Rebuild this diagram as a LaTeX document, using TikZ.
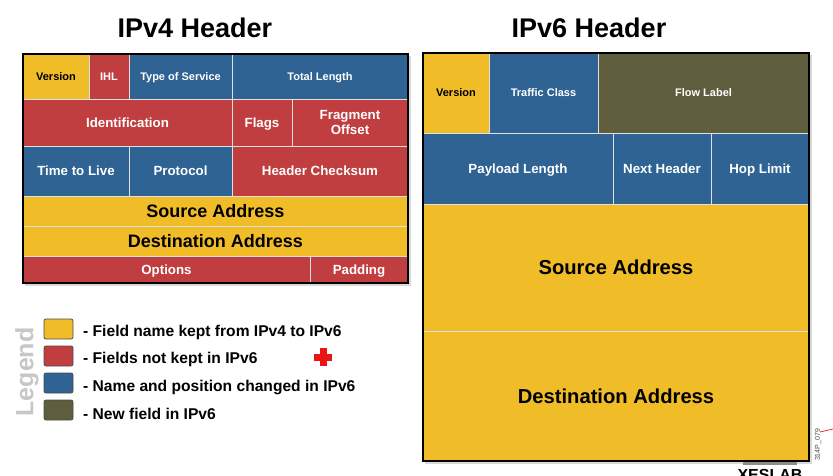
\documentclass[tikz,border=0pt]{standalone}
\usepackage{fontspec}
\setmainfont{Liberation Sans}
\definecolor{cyel}{RGB}{240,188,40}
\definecolor{cred}{RGB}{192,62,64}
\definecolor{cblu}{RGB}{46,99,148}
\definecolor{coli}{RGB}{94,94,62}
\definecolor{cline}{RGB}{225,225,225}
\definecolor{cross}{RGB}{235,20,20}
\tikzset{
  cellbox/.style={draw=cline,line width=0.9pt,inner sep=0pt,font=\bfseries,align=center},
  syel/.style={fill=cyel,text=black},
  sred/.style={fill=cred,text=white},
  sblu/.style={fill=cblu,text=white},
  soli/.style={fill=coli,text=white},
  fs/.style={font=\bfseries\fontsize{11}{12}\selectfont,text height=7.9pt,text depth=0pt},
  fm/.style={font=\bfseries\fontsize{13.3}{15}\selectfont,text height=9.5pt,text depth=0pt},
  fmm/.style={font=\bfseries\fontsize{13.3}{15}\selectfont},
  fl/.style={font=\bfseries\fontsize{18}{20}\selectfont,text height=12.9pt,text depth=0pt},
  fx/.style={font=\bfseries\fontsize{20.2}{22}\selectfont,text height=14.5pt,text depth=0pt},
  outer/.style={draw=black,line width=2pt},
  legsq/.style={draw=black!70,line width=0.8pt,rounded corners=2pt,minimum width=29pt,minimum height=20pt,inner sep=0pt},
  legtxt/.style={anchor=west,inner sep=0pt,font=\bfseries\fontsize{15.6}{17}\selectfont},
  title/.style={font=\bfseries\fontsize{27}{30}\selectfont}
}
\newcommand\cell[7]{\node[cellbox,#6,minimum width={(#4-#2)*1pt},minimum height={(#5-#3)*1pt}] (#1) at ({(#2+#4)/2},{(#3+#5)/2}) {#7};}
\begin{document}
\begin{tikzpicture}[x=1pt,y=-1pt]
\useasboundingbox[fill=white] (0,0) rectangle (833,476);
% titles
\node[title] (t4) at (195,28) {IPv4 Header};
\node[title] (t6) at (589,28) {IPv6 Header};
% IPv4
\fill[black!15] (25,56) rectangle (411,286);
\cell{aver}{23}{54}{89}{99}{syel,fs}{Version}
\cell{aihl}{89}{54}{129}{99}{sred,fs}{IHL}
\cell{atos}{129}{54}{232}{99}{sblu,fs}{Type of Service}
\cell{atot}{232}{54}{408}{99}{sblu,fs}{Total Length}
\cell{aid}{23}{99}{232}{146}{sred,fm}{Identification}
\cell{afl}{232}{99}{292}{146}{sred,fm}{Flags}
\cell{afo}{292}{99}{408}{146}{sred,fmm}{Fragment\\Offset}
\cell{attl}{23}{146}{129}{196}{sblu,fm}{Time to Live}
\cell{apr}{129}{146}{232}{196}{sblu,fm}{Protocol}
\cell{ack}{232}{146}{408}{196}{sred,fm}{Header Checksum}
\cell{asrc}{23}{196}{408}{226}{syel,fl}{Source Address}
\cell{adst}{23}{226}{408}{256}{syel,fl}{Destination Address}
\cell{aopt}{23}{256}{310}{283}{sred,fm}{Options}
\cell{apad}{310}{256}{408}{283}{sred,fm}{Padding}
\draw[outer] (23,54) rectangle (408,283);
% IPv6
\fill[black!15] (425,55) rectangle (812,464);
\cell{bver}{423}{53}{489}{133}{syel,fs}{Version}
\cell{btc}{489}{53}{598}{133}{sblu,fs}{Traffic Class}
\cell{bfl}{598}{53}{809}{133}{soli,fs}{Flow Label}
\cell{bpl}{423}{133}{613}{204}{sblu,fm}{Payload Length}
\cell{bnh}{613}{133}{711}{204}{sblu,fm}{Next Header}
\cell{bhl}{711}{133}{809}{204}{sblu,fm}{Hop Limit}
\cell{bsrc}{423}{204}{809}{331}{syel,fx}{Source Address}
\cell{bdst}{423}{331}{809}{461}{syel,fx}{Destination Address}
\draw[outer] (423,53) rectangle (809,461);
\fill[black!45] (743,462) rectangle (797,465);
% legend
\node[rotate=90,text=black!22,font=\bfseries\fontsize{25}{26}\selectfont,inner sep=0pt] (leg) at (27,372) {Legend};
\node[legsq,fill=cyel] (l1) at (58.5,329) {};
\node[legsq,fill=cred] (l2) at (58.5,356) {};
\node[legsq,fill=cblu] (l3) at (58.5,383) {};
\node[legsq,fill=coli] (l4) at (58.5,410) {};
\node[legtxt] (lt1) at (83,332) {- Field name kept from IPv4 to IPv6};
\node[legtxt] (lt2) at (83,359) {- Fields not kept in IPv6};
\node[legtxt] (lt3) at (83,387) {- Name and position changed in IPv6};
\node[legtxt] (lt4) at (83,414) {- New field in IPv6};
% red cross
\fill[cross] (319.5,348) rectangle (326.5,366);
\fill[cross] (314,353.5) rectangle (332,360.5);
% corner marks
\node[rotate=90,font=\fontsize{7}{8}\selectfont,inner sep=0pt,text=black!70] (code) at (818,445) {314P\_079};
\draw[cross,line width=0.7pt] (820,432) -- (833,429);
\node[font=\bfseries\fontsize{16}{18}\selectfont,anchor=north,inner sep=0pt] (xes) at (770,469) {XESLAB};
\end{tikzpicture}
\end{document}
